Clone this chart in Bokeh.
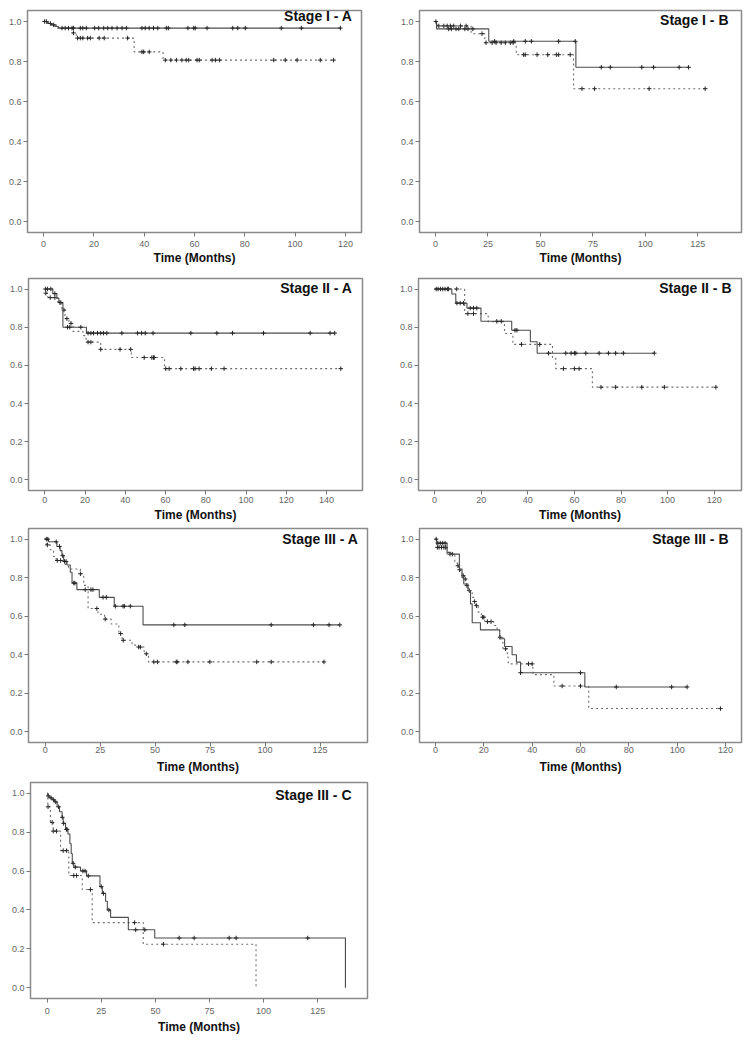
import numpy as np
from bokeh.plotting import figure
from bokeh.layouts import column, row
from bokeh.models import FixedTicker, PrintfTickFormatter, Range1d, Label
from bokeh.embed import file_html
from bokeh.resources import INLINE

# ---------------- data ----------------
# Each curve: event times, survival level from that time, end of follow-up, censor times
# Stage I - A
IA_solid_t = [0, 1.5, 3, 4.5, 6]
IA_solid_s = [1.0, 0.99, 0.983, 0.975, 0.967]
IA_solid_end = 118.0
IA_solid_cens = [0.4, 1.1, 2.7, 4.0, 7.3, 8.6, 9.9, 11.3, 11.9, 14.6, 15.6, 17.0, 20.3, 21.9,
                 23.9, 25.5, 27.2, 29.2, 31.2, 32.9, 39.1, 40.4, 42.0, 43.7, 45.4, 48.8, 49.6,
                 57.4, 59.7, 60.3, 65.0, 75.2, 77.2, 80.2, 94.5, 102.5, 118.0]
IA_dash_t = [0, 2, 5, 11.5, 13, 36, 47.5]
IA_dash_s = [1.0, 0.985, 0.967, 0.943, 0.917, 0.848, 0.807]
IA_dash_end = 115.5
IA_dash_cens = [11.9, 13.5, 14.6, 15.6, 17.5, 18.6, 22.1, 24.1, 33.4, 39.1, 39.8, 42.0, 48.4,
                50.6, 52.8, 55.0, 56.7, 57.7, 61.0, 61.9, 67.0, 68.3, 69.9, 91.5, 96.1, 100.8,
                110.0, 115.3]

# Stage I - B
IB_solid_t = [0, 0.5, 25.4, 66.9]
IB_solid_s = [1.0, 0.963, 0.901, 0.771]
IB_solid_end = 120.6
IB_solid_cens = [0.2, 6.3, 7.6, 9.8, 11.1, 14.0, 15.5, 17.8, 28.2, 37.3, 42.8, 45.7, 58.7, 66.6,
                 79.0, 83.3, 98.3, 103.9, 116.1, 120.6]
IB_dash_t = [0, 1, 17, 23.5, 38.5, 65.8]
IB_dash_s = [1.0, 0.978, 0.939, 0.894, 0.834, 0.664]
IB_dash_end = 128.5
IB_dash_cens = [1.6, 4.0, 5.6, 7.1, 8.7, 11.9, 14.6, 22.2, 24.1, 27.0, 28.9, 31.3, 33.3, 35.7,
                37.0, 42.0, 42.8, 48.4, 53.5, 57.6, 58.7, 64.2, 69.8, 75.8, 101.8, 128.5]

# Stage II - A
IIA_solid_t = [0, 4, 6, 7, 9, 20.7]
IIA_solid_s = [1.0, 0.976, 0.952, 0.929, 0.80, 0.769]
IIA_solid_end = 144.1
IIA_solid_cens = [0.3, 1.3, 3.0, 5.0, 7.5, 8.0, 11.3, 12.4, 17.9, 21.5, 22.9, 24.2, 26.2, 27.8,
                  29.2, 30.8, 38.3, 46.1, 48.1, 49.9, 53.8, 72.6, 85.5, 93.3, 108.7, 131.9,
                  141.8, 144.1]
IIA_dash_t = [0, 0.5, 1.5, 6, 8.5, 10, 12, 14, 19, 20.5, 27.8, 43, 59.5]
IIA_dash_s = [1.0, 0.978, 0.955, 0.933, 0.89, 0.845, 0.82, 0.778, 0.756, 0.722, 0.684, 0.641, 0.583]
IIA_dash_end = 147.1
IIA_dash_cens = [0.5, 2.7, 5.0, 9.5, 11.0, 13.0, 21.5, 22.9, 27.8, 37.4, 42.7, 49.4, 53.2, 54.0,
                 54.4, 60.1, 61.8, 67.6, 73.9, 74.7, 76.7, 82.8, 89.1, 147.1]

# Stage II - B
IIB_solid_t = [0, 7.4, 9.1, 13.9, 19.9, 33.1, 41.1, 44]
IIB_solid_s = [1.0, 0.974, 0.926, 0.90, 0.831, 0.784, 0.724, 0.664]
IIB_solid_end = 94.3
IIB_solid_cens = [0.7, 1.5, 2.5, 3.5, 4.5, 5.5, 9.6, 11.0, 12.4, 15.3, 16.7, 18.1, 26.7, 28.6,
                  34.5, 35.3, 48.9, 56.3, 58.6, 60.0, 60.6, 64.9, 70.6, 74.6, 77.7, 81.0, 94.3]
IIB_dash_t = [0, 12.9, 23, 30, 33.6, 50.6, 52, 67.7]
IIB_dash_s = [1.0, 0.871, 0.829, 0.767, 0.71, 0.641, 0.583, 0.486]
IIB_dash_end = 120.7
IIB_dash_cens = [6.0, 9.5, 14.3, 16.7, 37.3, 45.1, 55.3, 60.0, 62.0, 71.4, 77.7, 88.9, 98.6, 120.7]

# Stage III - A
IIIA_solid_t = [0, 1.5, 5.3, 6.8, 7.6, 8.4, 9.9, 11.4, 12.2, 14.4, 24.6, 31.4, 44.5]
IIIA_solid_s = [1.0, 0.986, 0.962, 0.94, 0.914, 0.884, 0.866, 0.828, 0.772, 0.738, 0.698, 0.652, 0.555]
IIIA_solid_end = 134.0
IIIA_solid_cens = [0.5, 1.2, 5.0, 6.5, 8.0, 8.8, 9.5, 13.0, 13.5, 18.2, 20.8, 21.7, 26.3, 27.8,
                   31.9, 35.4, 36.0, 38.7, 58.5, 63.5, 102.8, 122.0, 129.1, 134.0]
IIIA_dash_t = [0, 0.5, 2.3, 3.8, 5, 9, 10.6, 16, 17.5, 19.5, 24, 27, 30, 33.5, 35, 39.5, 42.5, 45, 47]
IIIA_dash_s = [1.0, 0.97, 0.945, 0.91, 0.889, 0.868, 0.845, 0.82, 0.76, 0.64, 0.61, 0.585, 0.56,
               0.51, 0.475, 0.45, 0.44, 0.405, 0.363]
IIIA_dash_end = 126.8
IIIA_dash_cens = [1.0, 5.5, 7.0, 16.0, 23.5, 27.3, 34.3, 35.5, 42.5, 43.3, 46.0, 49.4, 51.0,
                  59.6, 60.0, 64.9, 74.9, 96.2, 102.8, 126.8]

# Stage III - B
IIIB_solid_t = [0, 0.5, 4.8, 6.3, 9.9, 11, 11.7, 13.5, 14.5, 15.2, 18.6, 26.6, 28.6, 31.7, 33.5, 35.2, 61.8]
IIIB_solid_s = [1.0, 0.979, 0.931, 0.922, 0.845, 0.80, 0.767, 0.733, 0.664, 0.566, 0.529, 0.483,
                0.443, 0.40, 0.362, 0.307, 0.233]
IIIB_solid_end = 104.1
IIIB_solid_cens = [0.3, 1.0, 2.0, 3.0, 4.0, 35.2, 60.0, 74.8, 97.7, 104.1]
IIIB_dash_t = [0, 0.5, 4.8, 8.0, 9.0, 9.7, 10.3, 11.0, 12.0, 12.7, 13.4, 15.2, 15.9, 16.6, 17.7,
               19.0, 20.4, 24.1, 25.5, 26.5, 27.9, 29.7, 30.1, 40.3, 49.0, 63.4]
IIIB_dash_s = [1.0, 0.957, 0.922, 0.879, 0.862, 0.841, 0.828, 0.81, 0.793, 0.759, 0.733, 0.698,
               0.676, 0.655, 0.621, 0.595, 0.572, 0.552, 0.526, 0.491, 0.431, 0.388, 0.353,
               0.297, 0.238, 0.121]
IIIB_dash_end = 117.9
IIIB_dash_cens = [0.8, 1.5, 2.5, 3.5, 4.2, 6.0, 7.0, 9.3, 10.0, 11.5, 12.3, 13.0, 14.0, 16.2,
                  17.0, 19.5, 20.0, 21.5, 23.0, 26.7, 29.0, 38.5, 40.0, 52.4, 60.0, 117.9]

# Stage III - C
IIIC_solid_t = [0, 0.3, 1.2, 2.3, 3.4, 4.6, 5.7, 6.9, 7.4, 8.5, 9.6, 10.5, 11.1, 11.6, 12.3,
                15.4, 18.2, 24.4, 25.5, 27.0, 27.8, 29.3, 37.5, 49.7, 137.8]
IIIC_solid_s = [1.0, 0.986, 0.976, 0.966, 0.955, 0.93, 0.905, 0.876, 0.845, 0.814, 0.79, 0.74,
                0.69, 0.64, 0.62, 0.60, 0.575, 0.52, 0.485, 0.445, 0.40, 0.362, 0.298, 0.256, 0.0]
IIIC_solid_end = 137.8
IIIC_solid_cens = [0.5, 1.8, 3.0, 4.0, 5.3, 7.0, 7.6, 8.9, 9.2, 12.0, 13.0, 16.5, 17.5, 19.0,
                   25.0, 26.0, 28.5, 40.9, 45.1, 61.0, 67.9, 84.1, 87.3, 120.4]
IIIC_dash_t = [0, 0.3, 1.5, 2.8, 6.2, 10.0, 16.2, 20.8, 44.4, 96.5]
IIIC_dash_s = [1.0, 0.93, 0.85, 0.805, 0.705, 0.577, 0.505, 0.335, 0.224, 0.0]
IIIC_dash_end = 96.5
IIIC_dash_cens = [0.4, 2.3, 2.8, 4.3, 7.4, 9.0, 12.3, 13.6, 20.0, 40.4, 53.7]

titles = ["Stage I - A", "Stage I - B", "Stage II - A", "Stage II - B",
          "Stage III - A", "Stage III - B", "Stage III - C"]
x_tick_sets = [list(range(0, 121, 20)), list(range(0, 126, 25)), list(range(0, 141, 20)),
               list(range(0, 121, 20)), list(range(0, 126, 25)), list(range(0, 121, 20)),
               list(range(0, 126, 25))]
y_ticks = [0.0, 0.2, 0.4, 0.6, 0.8, 1.0]
x_title = "Time (Months)"

curves = [
    ((IA_solid_t, IA_solid_s, IA_solid_end, IA_solid_cens), (IA_dash_t, IA_dash_s, IA_dash_end, IA_dash_cens)),
    ((IB_solid_t, IB_solid_s, IB_solid_end, IB_solid_cens), (IB_dash_t, IB_dash_s, IB_dash_end, IB_dash_cens)),
    ((IIA_solid_t, IIA_solid_s, IIA_solid_end, IIA_solid_cens), (IIA_dash_t, IIA_dash_s, IIA_dash_end, IIA_dash_cens)),
    ((IIB_solid_t, IIB_solid_s, IIB_solid_end, IIB_solid_cens), (IIB_dash_t, IIB_dash_s, IIB_dash_end, IIB_dash_cens)),
    ((IIIA_solid_t, IIIA_solid_s, IIIA_solid_end, IIIA_solid_cens), (IIIA_dash_t, IIIA_dash_s, IIIA_dash_end, IIIA_dash_cens)),
    ((IIIB_solid_t, IIIB_solid_s, IIIB_solid_end, IIIB_solid_cens), (IIIB_dash_t, IIIB_dash_s, IIIB_dash_end, IIIB_dash_cens)),
    ((IIIC_solid_t, IIIC_solid_s, IIIC_solid_end, IIIC_solid_cens), (IIIC_dash_t, IIIC_dash_s, IIIC_dash_end, IIIC_dash_cens)),
]

# ---------------- layout / style ----------------
FONT = "Liberation Sans"
layout = [
    dict(w=378, h=268, l=27, r=17, t=9, b=35, xs=-6.4, xe=126.4, tr=9, tt=-3, ls=4, als=1),
    dict(w=376, h=268, l=41, r=13, t=10, b=36, xs=-7.6, xe=145.8, tr=13, tt=1, ls=4, als=1),
    dict(w=378, h=256, l=28, r=16, t=10, b=32, xs=-8.1, xe=157.9, tr=10, tt=1, ls=2, als=2),
    dict(w=376, h=256, l=40, r=13, t=10, b=31, xs=-6.9, xe=131.7, tr=10, tt=1, ls=2, als=2),
    dict(w=378, h=253, l=28, r=11, t=4, b=34, xs=-7.6, xe=146.6, tr=9, tt=2, ls=0, als=4),
    dict(w=376, h=253, l=41, r=13, t=4, b=35, xs=-6.6, xe=126.6, tr=13, tt=2, ls=0, als=4),
    dict(w=378, h=263, l=30, r=11, t=5, b=42, xs=-7.7, xe=148.0, tr=16, tt=4, ls=5, als=3),
]

SOLID_COLOR = "#4d4d4d"
DASH_COLOR = "#6e6e6e"
MARK = "#262626"


def level_at(t, s, c):
    idx = np.searchsorted(np.asarray(t, dtype=float), np.asarray(c, dtype=float), side="right") - 1
    return list(np.asarray(s, dtype=float)[idx])


def make_panel(i):
    L = layout[i]
    p = figure(width=L["w"], height=L["h"], output_backend="svg", toolbar_location=None,
               x_range=Range1d(L["xs"], L["xe"]), y_range=Range1d(-0.055, 1.055),
               min_border_left=L["l"], min_border_right=L["r"],
               min_border_top=L["t"], min_border_bottom=L["b"])
    p.grid.visible = False
    p.outline_line_color = "#8a8a8a"
    p.outline_line_width = 1.5
    p.background_fill_color = "white"
    p.border_fill_color = "white"

    for ax in (p.xaxis[0], p.yaxis[0]):
        ax.axis_line_color = None
        ax.major_tick_in = 0
        ax.major_tick_out = 4
        ax.major_tick_line_color = "#777777"
        ax.minor_tick_line_color = None
        ax.major_label_text_font = FONT
        ax.major_label_text_font_size = "9px"
        ax.major_label_text_color = "#666666"
    p.yaxis[0].major_label_standoff = 2
    p.xaxis[0].major_label_standoff = L["ls"]
    p.yaxis[0].ticker = FixedTicker(ticks=y_ticks)
    p.yaxis[0].formatter = PrintfTickFormatter(format="%.1f")
    p.xaxis[0].ticker = FixedTicker(ticks=x_tick_sets[i])
    p.xaxis[0].axis_label = x_title
    p.xaxis[0].axis_label_text_font = FONT
    p.xaxis[0].axis_label_text_font_size = "12px"
    p.xaxis[0].axis_label_text_font_style = "bold"
    p.xaxis[0].axis_label_text_color = "#111111"
    p.xaxis[0].axis_label_standoff = L["als"]

    (st, ss, se, sc), (dt, ds, de, dc) = curves[i]
    for (t, s, e, c, dash, col) in ((dt, ds, de, dc, "2 3", DASH_COLOR),
                                    (st, ss, se, sc, "solid", SOLID_COLOR)):
        xs = list(t) + [e]
        ys = list(s) + [s[-1]]
        p.step(xs, ys, mode="after", line_color=col, line_width=1.1, line_dash=dash)
        p.scatter(c, level_at(t, s, c), marker="cross", size=4.5, line_color=MARK, line_width=1)

    p.add_layout(Label(x=L["xe"], y=1.055, x_offset=-L["tr"], y_offset=-L["tt"],
                       text=titles[i], text_align="right", text_baseline="top",
                       text_font=FONT, text_font_size="14px", text_font_style="bold",
                       text_color="#111111"))
    return p


panels = [make_panel(i) for i in range(7)]
page = column(row(panels[0], panels[1]), row(panels[2], panels[3]),
              row(panels[4], panels[5]), row(panels[6]))

open("out.html", "w").write(file_html(page, INLINE))
